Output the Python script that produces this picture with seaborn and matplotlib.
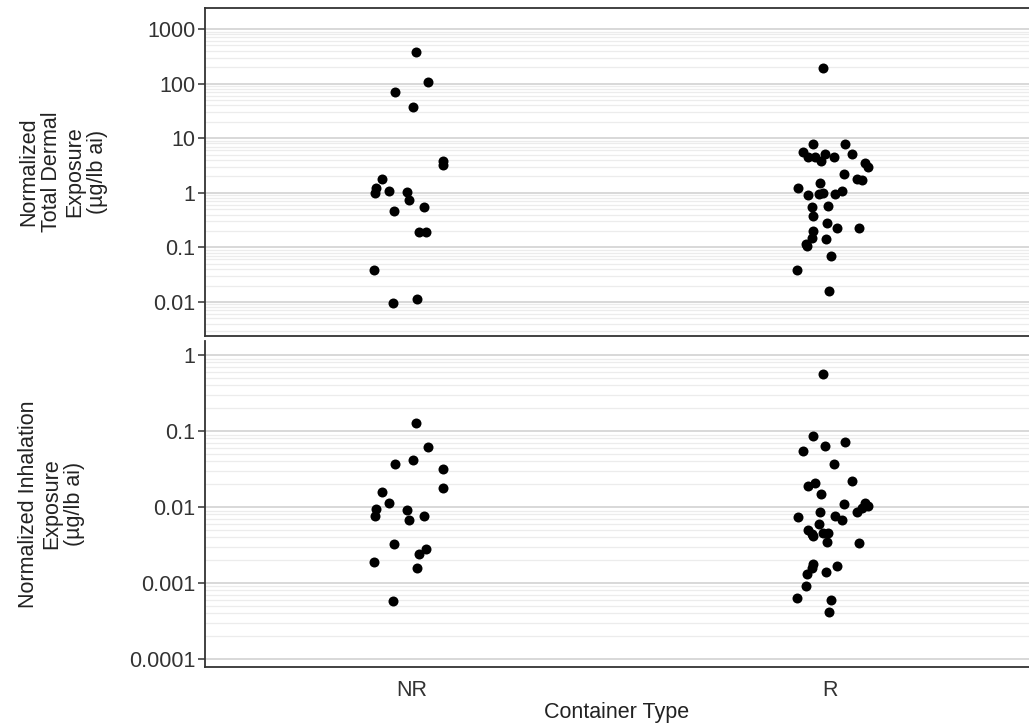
import numpy as np
import pandas as pd
import matplotlib
matplotlib.use("Agg")
import matplotlib.pyplot as plt
import seaborn as sns
from matplotlib.ticker import FixedLocator, FixedFormatter, NullFormatter

# ---------------- data ----------------
categories = ["NR", "R"]

dermal_nr = [383, 106, 71, 37, 3.9, 3.2, 1.77, 1.1, 1.2, 1.05, 1.0, 0.75, 0.55,
             0.47, 0.19, 0.19, 0.039, 0.0112, 0.0095]
dermal_r = [194, 7.8, 7.8, 5.2, 5.5, 4.5, 5.2, 4.6, 4.5, 3.9, 3.5, 3.0, 2.25,
            1.74, 1.8, 1.5, 1.24, 1.06, 0.96, 0.96, 0.90, 0.99, 0.57, 0.54,
            0.38, 0.28, 0.23, 0.23, 0.2, 0.15, 0.14, 0.104, 0.114, 0.07,
            0.039, 0.016]
inhal_nr = [0.126, 0.061, 0.037, 0.0416, 0.0315, 0.018, 0.0159, 0.0114, 0.0095,
            0.0091, 0.0077, 0.0068, 0.0077, 0.0033, 0.0028, 0.0024, 0.0019,
            0.0016, 0.00058]
inhal_r = [0.57, 0.086, 0.072, 0.064, 0.055, 0.037, 0.022, 0.021, 0.019, 0.015,
           0.0112, 0.0104, 0.011, 0.0096, 0.0087, 0.0087, 0.0075, 0.0068,
           0.0077, 0.0059, 0.005, 0.0045, 0.0045, 0.0044, 0.0042, 0.0035,
           0.0034, 0.0017, 0.0018, 0.0016, 0.0014, 0.0013, 0.00091, 0.00059,
           0.00063, 0.00042]

dermal_ticks = [0.01, 0.1, 1, 10, 100, 1000]
dermal_labels = ["0.01", "0.1", "1", "10", "100", "1000"]
inhal_ticks = [0.0001, 0.001, 0.01, 0.1, 1]
inhal_labels = ["0.0001", "0.001", "0.01", "0.1", "1"]

dermal_ylabel = "Normalized\nTotal Dermal\nExposure\n(\u00b5g/lb ai)"
inhal_ylabel = "Normalized Inhalation\nExposure\n(\u00b5g/lb ai)"
xlabel = "Container Type"

df_dermal = pd.DataFrame({
    "type": ["NR"] * len(dermal_nr) + ["R"] * len(dermal_r),
    "value": dermal_nr + dermal_r,
})
df_inhal = pd.DataFrame({
    "type": ["NR"] * len(inhal_nr) + ["R"] * len(inhal_r),
    "value": inhal_nr + inhal_r,
})

# ---------------- style ----------------
sns.set_theme(style="white")
plt.rcParams["font.family"] = ["Liberation Sans", "DejaVu Sans"]

W, H = 1029, 725
fig = plt.figure(figsize=(W / 100, H / 100), dpi=100)

left = 205 / W
width = 824 / W
ax1 = fig.add_axes([left, 1 - 336 / H, width, (336 - 8) / H])
ax2 = fig.add_axes([left, 1 - 667 / H, width, (667 - 341) / H])

spine_col = "#333333"


def minor_list(lo_exp, hi_exp):
    out = []
    for e in range(lo_exp, hi_exp):
        for m in range(2, 10):
            out.append(m * 10.0 ** e)
    return out


def style_axis(ax, df, ticks, labels, ylim, minors, ylabel, label_x, seed):
    ax.set_yscale("log")
    np.random.seed(seed)
    sns.stripplot(data=df, x="type", y="value", order=categories, ax=ax,
                  color="black", size=7.2, linewidth=0, jitter=0.095,
                  zorder=3)
    ax.set_ylim(*ylim)
    ax.set_xlim(-0.495, 1.476)
    ax.yaxis.set_major_locator(FixedLocator(ticks))
    ax.yaxis.set_major_formatter(FixedFormatter(labels))
    ax.yaxis.set_minor_locator(FixedLocator(minors))
    ax.yaxis.set_minor_formatter(NullFormatter())
    ax.set_axisbelow(True)
    ax.yaxis.grid(True, which="major", color="#d6d6d6", linewidth=1.3)
    ax.yaxis.grid(True, which="minor", color="#ececec", linewidth=0.9)
    ax.xaxis.grid(False)
    ax.tick_params(axis="y", which="major", length=5, width=1.1,
                   color=spine_col, pad=2, labelsize=15.5, labelcolor="#333333",
                   left=True)
    ax.tick_params(axis="y", which="minor", length=0)
    ax.tick_params(axis="x", length=0, pad=9, labelsize=15.5,
                   labelcolor="#333333")
    for s in ["left", "bottom", "top", "right"]:
        ax.spines[s].set_color(spine_col)
        ax.spines[s].set_linewidth(1.3)
    ax.spines["right"].set_visible(False)
    ax.set_ylabel(ylabel, fontsize=15.5, color="#222222", linespacing=1.12)
    ax.yaxis.set_label_coords(label_x, 0.5)
    ax.set_xlabel("")


style_axis(ax1, df_dermal, dermal_ticks, dermal_labels, (0.00238, 2427),
           minor_list(-3, 3), dermal_ylabel, -0.118, 3)
style_axis(ax2, df_inhal, inhal_ticks, inhal_labels, (7.85e-5, 1.53),
           minor_list(-4, 0), inhal_ylabel, -0.146, 3)

ax1.spines["top"].set_visible(True)
ax1.tick_params(axis="x", labelbottom=False)
ax2.spines["top"].set_visible(False)
ax2.set_xlabel(xlabel, fontsize=15.5, color="#222222", labelpad=1)

fig.savefig("out.png", dpi=100)
